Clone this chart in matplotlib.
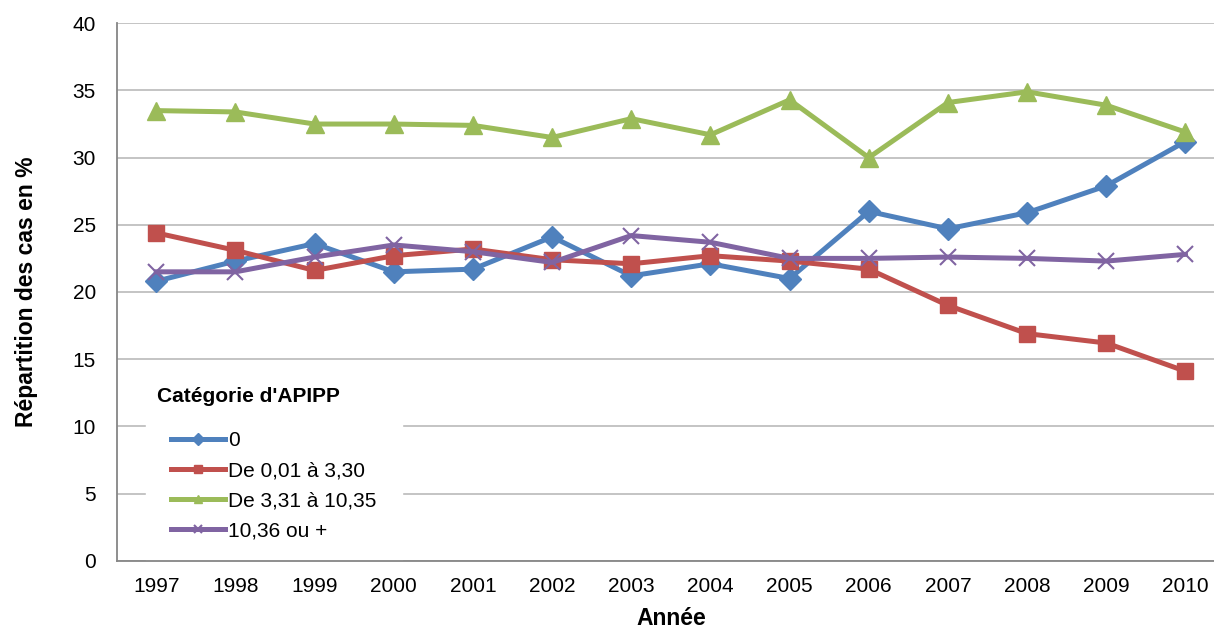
import matplotlib
matplotlib.use("Agg")
import matplotlib.pyplot as plt

plt.rcParams['font.family'] = ['Liberation Sans', 'DejaVu Sans']

# années et séries (répartition des cas en %)
annees = ['1997', '1998', '1999', '2000', '2001', '2002', '2003',
          '2004', '2005', '2006', '2007', '2008', '2009', '2010']
cat_0 = [20.8, 22.3, 23.6, 21.5, 21.7, 24.1, 21.2, 22.1, 21.0, 26.0, 24.7, 25.9, 27.9, 31.2]
cat_001_330 = [24.4, 23.1, 21.6, 22.7, 23.2, 22.4, 22.1, 22.7, 22.3, 21.7, 19.0, 16.9, 16.2, 14.1]
cat_331_1035 = [33.5, 33.4, 32.5, 32.5, 32.4, 31.5, 32.9, 31.7, 34.3, 30.0, 34.1, 34.9, 33.9, 31.9]
cat_1036_plus = [21.5, 21.5, 22.6, 23.5, 23.0, 22.2, 24.2, 23.7, 22.5, 22.5, 22.6, 22.5, 22.3, 22.8]
noms = ['0', 'De 0,01 à 3,30', 'De 3,31 à 10,35', '10,36 ou +']

fig = plt.figure(figsize=(12.14, 6.29), dpi=100)
ax = fig.add_axes([0.0961, 0.1086, 0.913, 0.8544])

x = list(range(len(annees)))
lw = 3.6
ax.plot(x, cat_0, color='#4F81BD', lw=lw, marker='D', ms=11, label=noms[0], zorder=3)
ax.plot(x, cat_001_330, color='#C0504D', lw=lw, marker='s', ms=12, label=noms[1], zorder=3)
ax.plot(x, cat_331_1035, color='#9BBB59', lw=lw, marker='^', ms=13, label=noms[2], zorder=3)
ax.plot(x, cat_1036_plus, color='#8064A2', lw=lw, marker='x', ms=11, mew=1.5,
        label=noms[3], zorder=3)

ax.set_xlim(-0.5, len(annees) - 0.5)
ax.set_ylim(0, 40)
ax.set_yticks(range(0, 41, 5))
ax.set_xticks(x)
ax.set_xticklabels(annees)
ax.tick_params(length=0, labelsize=15)
ax.tick_params(axis='x', pad=12)
ax.tick_params(axis='y', pad=15)

ax.grid(axis='y', color='#BFBFBF', lw=1.3)
ax.set_axisbelow(True)
for s in ['top', 'right']:
    ax.spines[s].set_visible(False)
for s in ['left', 'bottom']:
    ax.spines[s].set_color('#868686')
    ax.spines[s].set_linewidth(1.3)

ax.set_xlabel('Année', fontsize=16.5, fontweight='bold', labelpad=8)
ax.set_ylabel('Répartition des cas en %', fontsize=16.5, fontweight='bold', labelpad=25)

leg = ax.legend(title="Catégorie d'APIPP", loc='upper left', bbox_to_anchor=(0.0262, 0.345),
                fontsize=15, title_fontproperties={'weight': 'bold', 'size': 15},
                frameon=True, fancybox=False, edgecolor='white', framealpha=1,
                handlelength=2.6, handletextpad=0.15, labelspacing=0.53,
                alignment='left', borderpad=0.55, borderaxespad=0)
# entrées décalées sous le titre
leg._legend_handle_box.pad = 10
leg._legend_box.sep = 8.5
leg.set_zorder(2)
for h in leg.legend_handles:
    h.set_markersize(6)

fig.savefig('out.png', dpi=100)
